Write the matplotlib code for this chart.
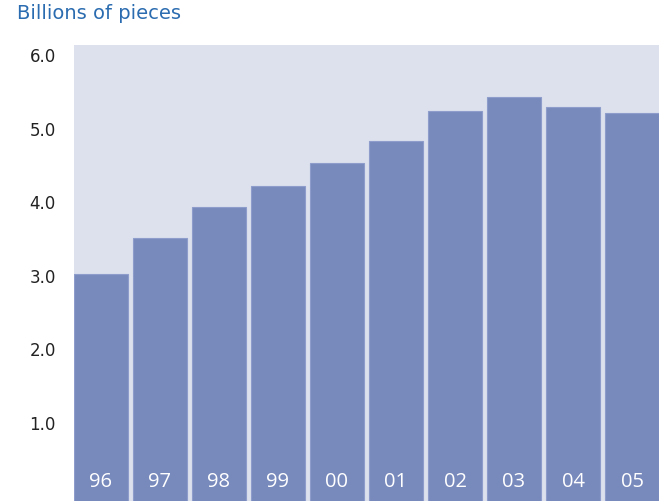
import matplotlib
matplotlib.use('Agg')
import matplotlib.pyplot as plt
import numpy as np

# data
years = ['96', '97', '98', '99', '00', '01', '02', '03', '04', '05']
pieces = [3.02, 3.51, 3.94, 4.22, 4.53, 4.83, 5.24, 5.43, 5.29, 5.21]
yticks = [1.0, 2.0, 3.0, 4.0, 5.0, 6.0]

panel_col = '#dde1ee'
bar_col = '#7889bc'

fig = plt.figure(figsize=(6.68, 5.01), dpi=100, facecolor='white')
ax = fig.add_axes([74 / 668, 0.0, 585 / 668, 1 - 45 / 501])
ax.set_facecolor(panel_col)

y_lo, y_hi = -0.06, 6.136
w = 0.915
x = np.arange(len(years))
# bars run past the floor of the axis (the picture is cut just below zero)
base = 1.5 * y_lo
ax.bar(x, np.array(pieces) - base, bottom=base, width=w,
       color=bar_col, edgecolor='#8d9cca', linewidth=0.8, zorder=2)

for xi, lab in zip(x, years):
    ax.text(xi, 0.2, lab, ha='center', va='center', color='white',
            fontsize=14.5, family='Open Sans', zorder=3)

ax.set_xlim(-w / 2, len(years) - 1 + w / 2)
ax.set_ylim(y_lo, y_hi)
ax.set_xticks([])
ax.set_yticks(yticks)
ax.set_yticklabels([f'{v:.1f}' for v in yticks])
ax.tick_params(axis='y', length=0, pad=13, labelsize=12, labelcolor='#222222')
for s in ax.spines.values():
    s.set_visible(False)

fig.text(17 / 668, 1 - 19 / 501, 'Billions of pieces', ha='left', va='baseline',
         fontsize=14, color='#2b6cb0')

fig.savefig('out.png', dpi=100)
